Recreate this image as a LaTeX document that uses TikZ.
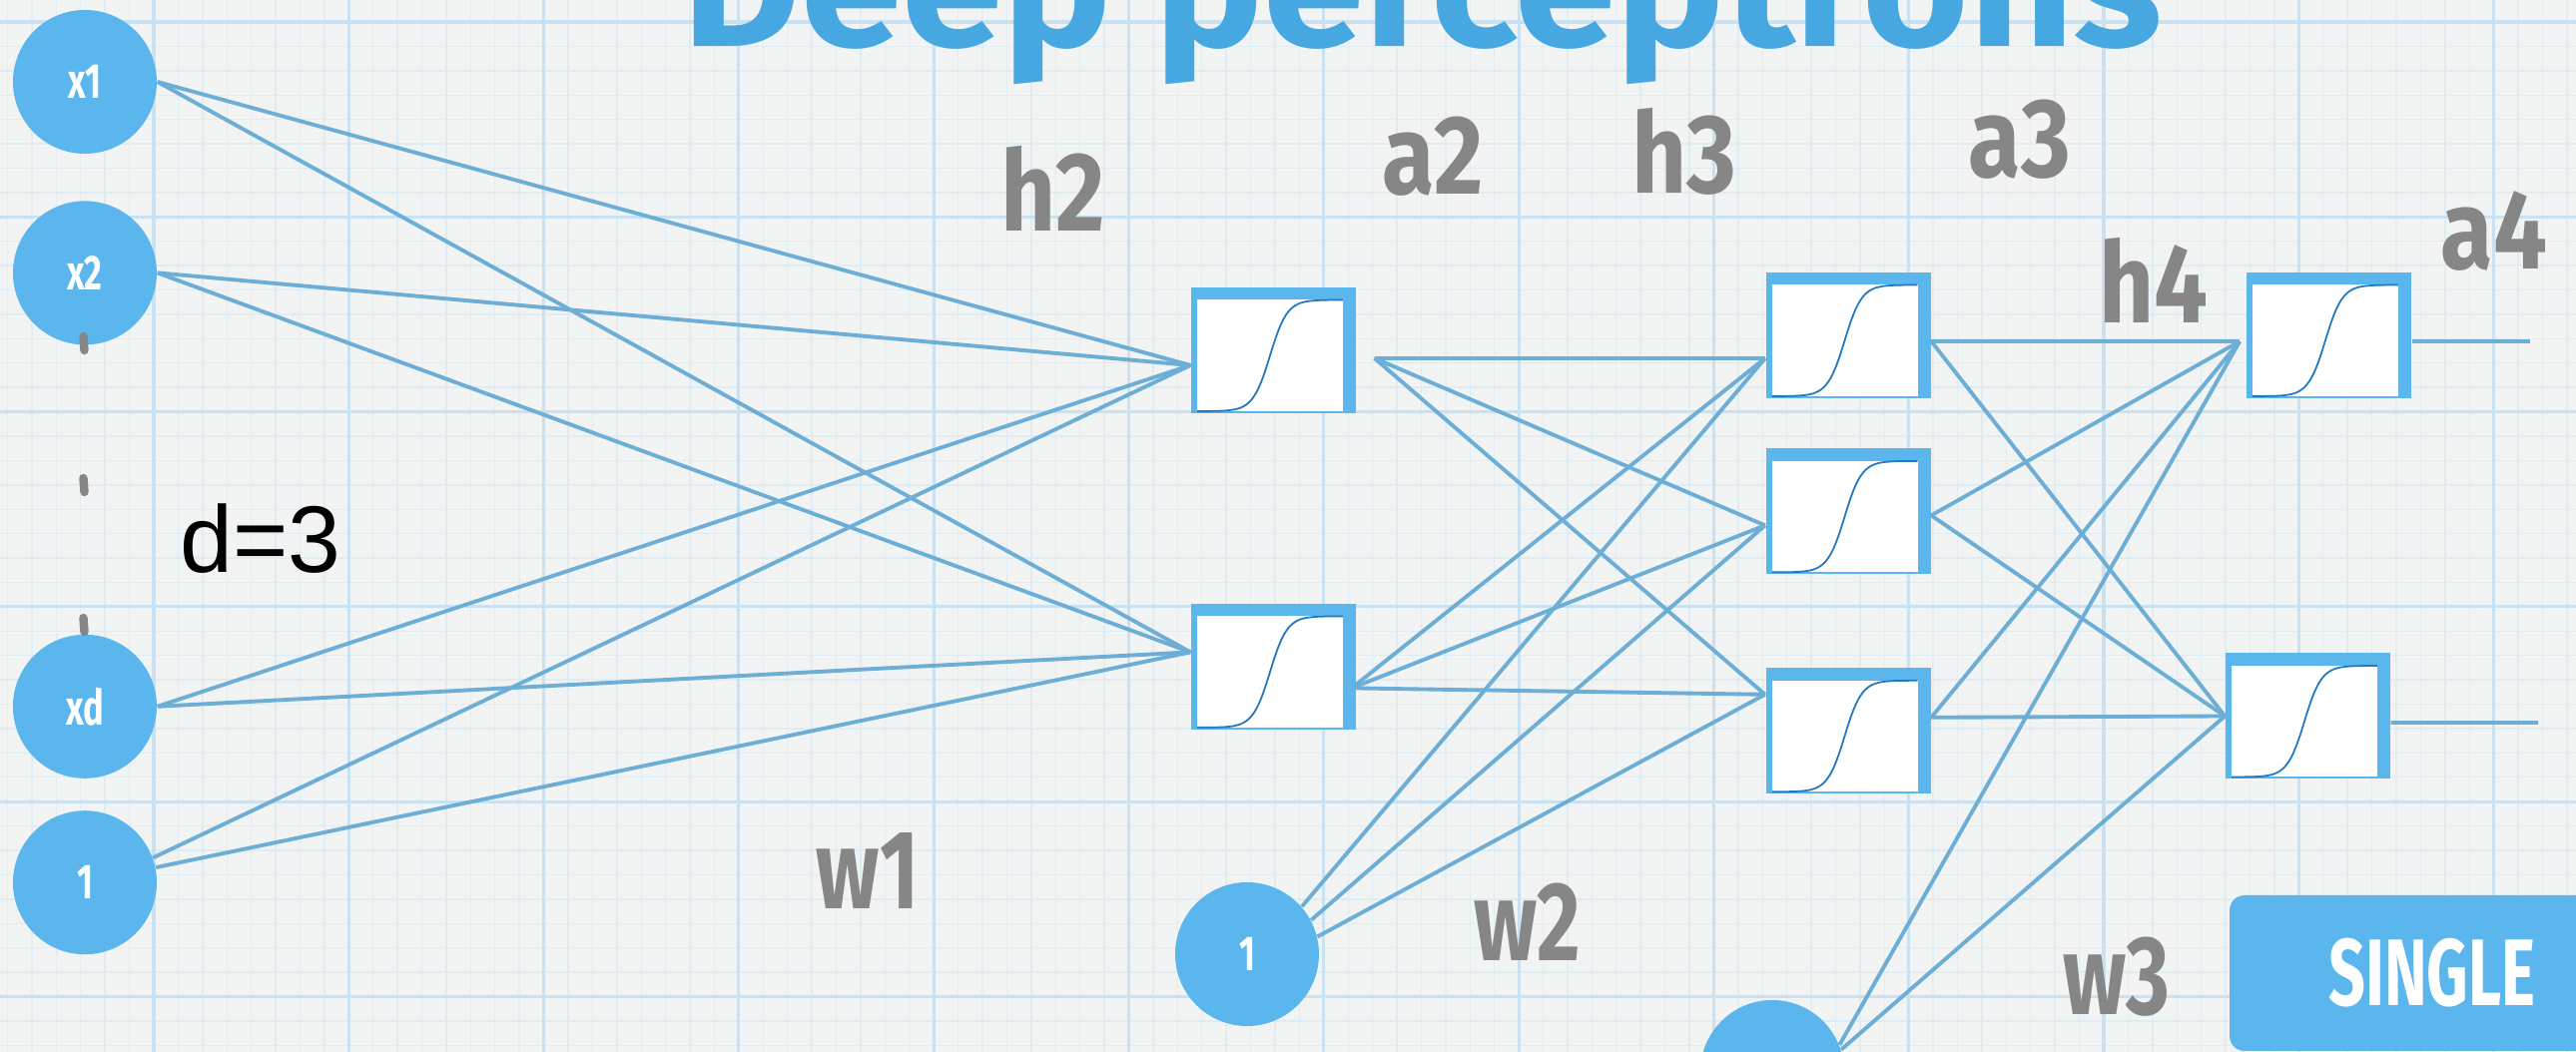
\documentclass[tikz,border=0pt]{standalone}
\usepackage{fontspec}
\setmainfont{Liberation Sans}
\newfontfamily\handfont{Fira Sans}
\usetikzlibrary{positioning}

\definecolor{paper}{HTML}{F2F3F3}
\definecolor{gridminor}{HTML}{DFECF4}
\definecolor{gridmajor}{HTML}{C9E1F0}
\definecolor{nodeblue}{HTML}{5AB6EC}
\definecolor{wireblue}{HTML}{6CAED6}
\definecolor{titleblue}{HTML}{47A7E0}
\definecolor{labelgray}{HTML}{868686}
\definecolor{curveblue}{HTML}{1F78C1}

\newcommand{\squeeze}[2][0.7]{\scalebox{#1}[1]{#2}}

\begin{document}
\begin{tikzpicture}[
	circ/.style={circle, fill=nodeblue, minimum size=1.44cm, inner sep=0pt, text=white, font=\handfont\bfseries\fontsize{14}{14}\selectfont},
	sigbox/.style={rectangle, fill=nodeblue, minimum width=1.65cm, minimum height=1.26cm, inner sep=0pt,
		path picture={
			\fill[white] (-0.765,-0.61) rectangle (0.695,0.505);
			\draw[curveblue, line width=0.5pt] plot[domain=0:1, samples=60] ({-0.765+1.46*\x},{-0.61+1.115/(1+exp(-17*(\x-0.5)))});
		}},
	wire/.style={draw=wireblue, line width=1.1pt},
	lbl/.style={text=labelgray, inner sep=0pt, font=\handfont\bfseries\fontsize{32}{32}\selectfont},
	tab/.style={rectangle, rounded corners=0.15cm, fill=nodeblue, text=white, inner sep=0pt, font=\handfont\bfseries\fontsize{27}{27}\selectfont}
	]
	
	% 画布和方格纸
	\useasboundingbox (0,0) rectangle (25.8,10.54);
	\clip (0,0) rectangle (25.8,10.54);
	\fill[paper] (0,0) rectangle (25.8,10.54);
	\begin{scope}[shift={(1.54,0.555)}]
		\draw[gridminor, line width=0.4pt, step=0.244125] (-1.8,-0.8) grid (24.5,10.2);
		\draw[gridmajor, line width=0.9pt, step=1.953] (-1.8,-0.8) grid (24.5,10.2);
	\end{scope}
	
	% 标题
	\node[text=titleblue, inner sep=0pt, anchor=base west, font=\handfont\bfseries\fontsize{49}{49}\selectfont] (title) at (6.83,10.07) {\squeeze[1.06]{Deep perceptrons}};
	
	% 输入层
	\node[circ] (x1) at (0.85,9.72) {\squeeze{x1}};
	\node[circ, below=0.46cm of x1] (x2) {\squeeze{x2}};
	\node[circ, below=2.89cm of x2] (xd) {\squeeze{xd}};
	\node[circ, below=0.31cm of xd] (bias_in) {\squeeze{1}};
	\draw[labelgray, line width=2.4pt, line cap=round] (0.835,7.17) -- (0.845,7.03);
	\draw[labelgray, line width=2.4pt, line cap=round] (0.835,5.75) -- (0.845,5.61);
	\draw[labelgray, line width=2.4pt, line cap=round] (0.835,4.35) -- (0.845,4.21);
	\node[inner sep=0pt, font=\fontsize{27}{27}\selectfont] (dim) at (2.61,5.14) {d=3};
	
	% 隐藏层
	\node[sigbox] (h2_top) at (12.755,7.03) {};
	\node[sigbox, below=1.895cm of h2_top] (h2_bot) {};
	\node[sigbox] (h3_top) at (18.51,7.18) {};
	\node[sigbox, below=0.49cm of h3_top] (h3_mid) {};
	\node[sigbox, below=0.925cm of h3_mid] (h3_bot) {};
	\node[sigbox, right=3.15cm of h3_top] (h4_top) {};
	\node[sigbox] (h4_bot) at (23.115,3.365) {};
	
	% 偏置节点
	\node[circ] (bias_h2) at (12.49,0.98) {\squeeze{1}};
	\node[circ] (bias_h3) at (17.75,-0.20) {};
	
	% 连线的端点
	\coordinate (h2_top_in) at ([yshift=-0.15cm]h2_top.west);
	\coordinate (h2_top_out) at ([xshift=0.18cm, yshift=-0.08cm]h2_top.east);
	\coordinate (h2_bot_in) at ([yshift=0.145cm]h2_bot.west);
	\coordinate (h2_bot_out) at ([xshift=-0.05cm, yshift=-0.215cm]h2_bot.east);
	\coordinate (h3_top_in) at ([yshift=-0.23cm]h3_top.west);
	\coordinate (h3_top_out) at ([yshift=-0.06cm]h3_top.east);
	\coordinate (h3_mid_in) at ([yshift=-0.14cm]h3_mid.west);
	\coordinate (h3_mid_out) at ([yshift=-0.04cm]h3_mid.east);
	\coordinate (h3_bot_in) at ([yshift=0.365cm]h3_bot.west);
	\coordinate (h3_bot_out) at ([yshift=0.135cm]h3_bot.east);
	\coordinate (h4_top_in) at ([xshift=-0.06cm, yshift=-0.06cm]h4_top.west);
	\coordinate (h4_top_out) at ([yshift=-0.06cm]h4_top.east);
	\coordinate (h4_bot_in) at (h4_bot.west);
	\coordinate (h4_bot_out) at ([yshift=-0.065cm]h4_bot.east);
	\coordinate (y_top) at (25.34,7.12);
	\coordinate (y_bot) at (25.42,3.30);
	
	% 第一层权重 w1
	\draw[wire] (x1.east) -- (h2_top_in);
	\draw[wire] (x1.east) -- (h2_bot_in);
	\draw[wire] (x2.east) -- (h2_top_in);
	\draw[wire] (x2.east) -- (h2_bot_in);
	\draw[wire] (xd.east) -- (h2_top_in);
	\draw[wire] (xd.east) -- (h2_bot_in);
	\draw[wire] (bias_in.20) -- (h2_top_in);
	\draw[wire] (bias_in.12) -- (h2_bot_in);
	
	% 第二层权重 w2
	\draw[wire] (h2_top_out) -- (h3_top_in);
	\draw[wire] (h2_top_out) -- (h3_mid_in);
	\draw[wire] (h2_top_out) -- (h3_bot_in);
	\draw[wire] (h2_bot_out) -- (h3_top_in);
	\draw[wire] (h2_bot_out) -- (h3_mid_in);
	\draw[wire] (h2_bot_out) -- (h3_bot_in);
	\draw[wire] (bias_h2.41) -- (h3_top_in);
	\draw[wire] (bias_h2.28) -- (h3_mid_in);
	\draw[wire] (bias_h2.14) -- (h3_bot_in);
	
	% 第三层权重 w3
	\draw[wire] (h3_top_out) -- (h4_top_in);
	\draw[wire] (h3_top_out) -- (h4_bot_in);
	\draw[wire] (h3_mid_out) -- (h4_top_in);
	\draw[wire] (h3_mid_out) -- (h4_bot_in);
	\draw[wire] (h3_bot_out) -- (h4_top_in);
	\draw[wire] (h3_bot_out) -- (h4_bot_in);
	\draw[wire] (bias_h3.22) -- (h4_top_in);
	\draw[wire] (bias_h3.18) -- (h4_bot_in);
	
	% 输出
	\draw[wire] (h4_top_out) -- (y_top);
	\draw[wire] (h4_bot_out) -- (y_bot);
	
	% 标注
	\node[lbl] (lbl_h2) at (10.55,8.65) {\squeeze[0.85]{h2}};
	\node[lbl] (lbl_a2) at (14.35,8.97) {\squeeze[0.85]{a2}};
	\node[lbl] (lbl_h3) at (16.87,9.02) {\squeeze[0.85]{h3}};
	\node[lbl] (lbl_a3) at (20.23,9.14) {\squeeze[0.85]{a3}};
	\node[lbl] (lbl_h4) at (21.57,7.73) {\squeeze[0.85]{h4}};
	\node[lbl] (lbl_a4) at (24.98,8.22) {\squeeze[0.85]{a4}};
	\node[lbl] (lbl_w1) at (8.69,1.82) {\squeeze[0.75]{w1}};
	\node[lbl] (lbl_w2) at (15.30,1.30) {\squeeze[0.75]{w2}};
	\node[lbl] (lbl_w3) at (21.20,0.75) {\squeeze[0.75]{w3}};
	
	% 右下角标签
	\node[tab, minimum width=4.06cm, minimum height=1.56cm] (single) at (24.36,0.79) {\squeeze[0.68]{SINGLE}};
	
\end{tikzpicture}
\end{document}
